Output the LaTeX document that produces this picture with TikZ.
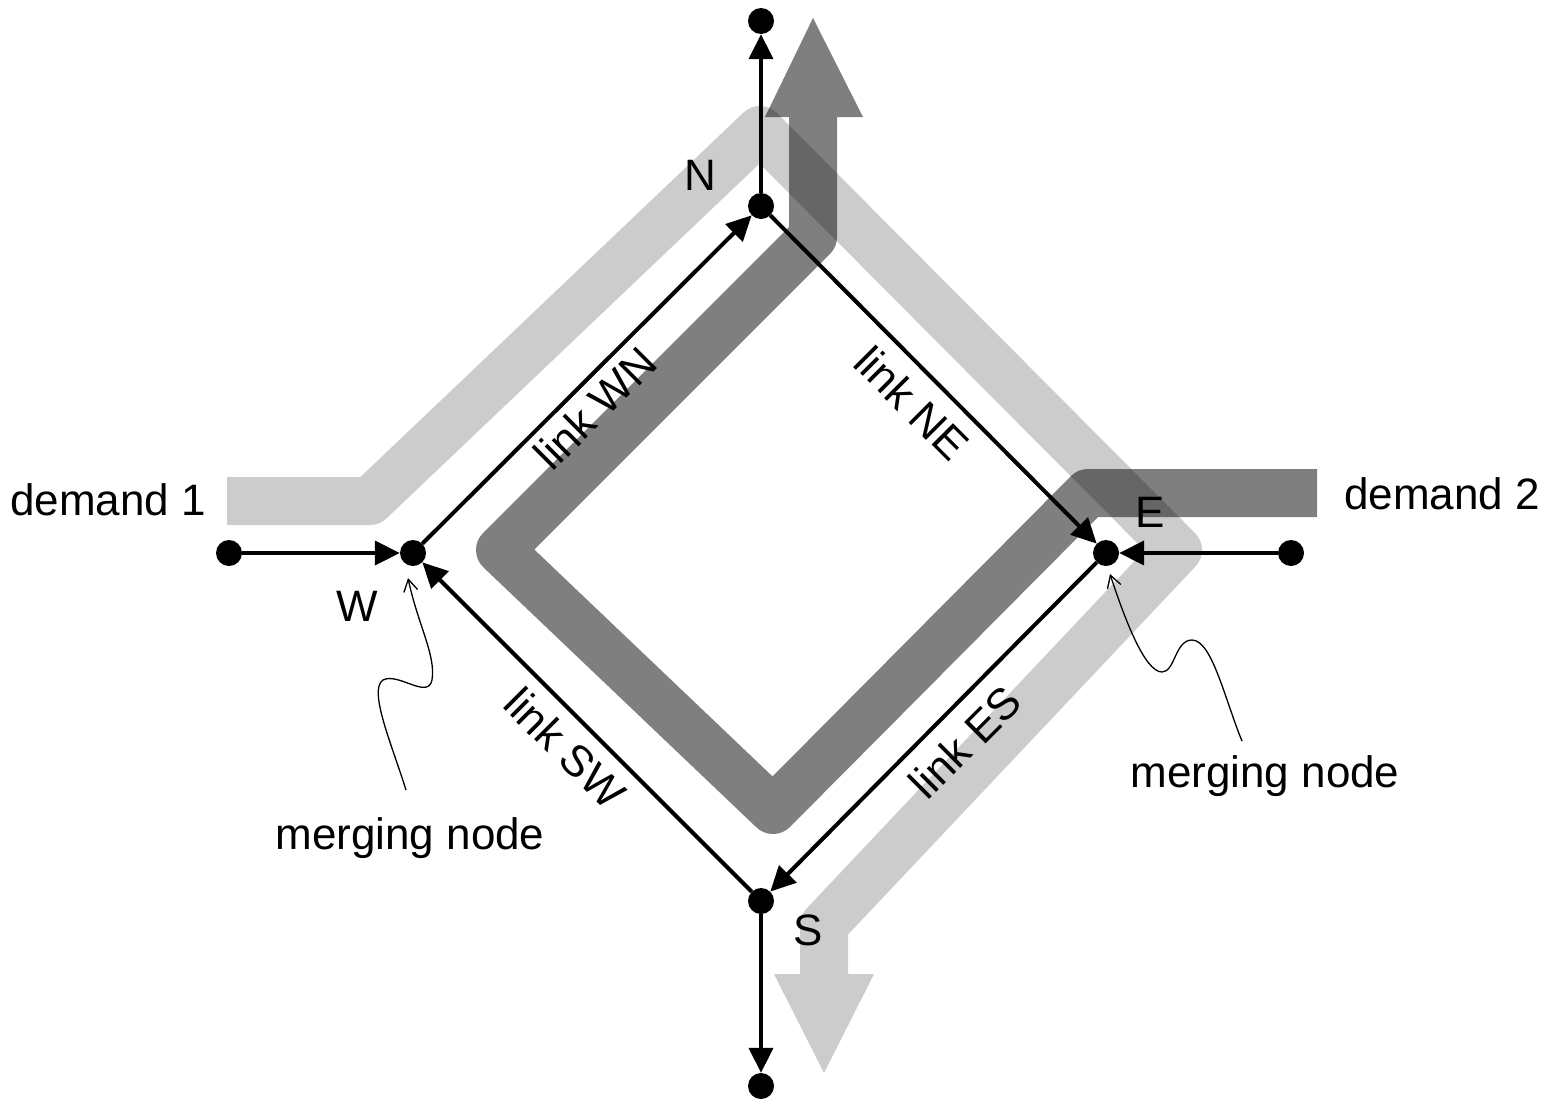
\documentclass[tikz,border=0pt]{standalone}
\usepackage{fontspec}
\setmainfont{Liberation Sans}
\usetikzlibrary{arrows.meta}
\tikzset{
  dot/.style={circle,fill=black,inner sep=0pt,minimum size=26pt},
  link/.style={line width=4pt,-{Triangle[length=25pt,width=24pt]},shorten >=0pt},
  band/.style={line width=48pt,line join=round,line cap=butt,draw=black},
  lbl/.style={font=\fontsize{44}{50}\selectfont,inner sep=0pt},
  pointer/.style={line width=1.3pt,-{Straight Barb[length=12pt,width=14pt,line width=1.3pt]}}
}
\begin{document}
\begin{tikzpicture}[x=1pt,y=-1pt]
\useasboundingbox (0,0) rectangle (1553,1117);
% light band (demand 1)
\begin{scope}[transparency group,opacity=0.2]
  \draw[band] (227,501) -- (370,501) -- (760,130) -- (1178,550) -- (824,925) -- (824,975);
  \fill[black] (774,974) -- (874,974) -- (824,1073) -- cycle;
\end{scope}
% dark band (demand 2)
\begin{scope}[transparency group,opacity=0.5]
  \draw[band] (1317,493) -- (1088,493) -- (773,810) -- (500,550) -- (813,237) -- (813,116);
  \fill[black] (765,117) -- (863,117) -- (813,18) -- cycle;
\end{scope}
% nodes
\node[dot] (top) at (761,21) {};
\node[dot] (N) at (761,206) {};
\node[dot] (W) at (413,553) {};
\node[dot] (s1) at (229,553) {};
\node[dot] (E) at (1106,553) {};
\node[dot] (s2) at (1291,553) {};
\node[dot] (S) at (761,901) {};
\node[dot] (bot) at (761,1086) {};
% links
\draw[link] (s1) -- (W);
\draw[link] (s2) -- (E);
\draw[link] (W) -- (N);
\draw[link] (N) -- (E);
\draw[link] (E) -- (S);
\draw[link] (S) -- (W);
\draw[link] (N) -- (top);
\draw[link] (S) -- (bot);
% labels
\node[lbl] (d1) at (108,500) {demand 1};
\node[lbl] (d2) at (1442,494) {demand 2};
\node[lbl] (lN) at (700,175) {N};
\node[lbl] (lW) at (357,606) {W};
\node[lbl] (lE) at (1150,512) {E};
\node[lbl] (lS) at (808,930) {S};
\node[lbl,rotate=45] (lWN) at (595,408) {link WN};
\node[lbl,rotate=-45] (lNE) at (912,403) {link NE};
\node[lbl,rotate=-45] (lSW) at (565,748) {link SW};
\node[lbl,rotate=45] (lES) at (965,742) {link ES};
\node[lbl] (m1) at (410,838) {merging node};
\node[lbl] (m2) at (1265,776) {merging node};
% pointers
\coordinate (p1) at (406,790);
\coordinate (p1t) at (408,578);
\coordinate (p2) at (1242,741);
\coordinate (p2t) at (1110,574);
\draw[pointer] (p1) .. controls (392,745) and (368,690) .. (383,680)
  .. controls (398,672) and (428,700) .. (432,680)
  .. controls (436,655) and (418,625) .. (p1t);
\draw[pointer] (p2) .. controls (1225,700) and (1212,640) .. (1192,640)
  .. controls (1175,640) and (1175,672) .. (1162,672)
  .. controls (1145,672) and (1125,620) .. (p2t);
\end{tikzpicture}
\end{document}
